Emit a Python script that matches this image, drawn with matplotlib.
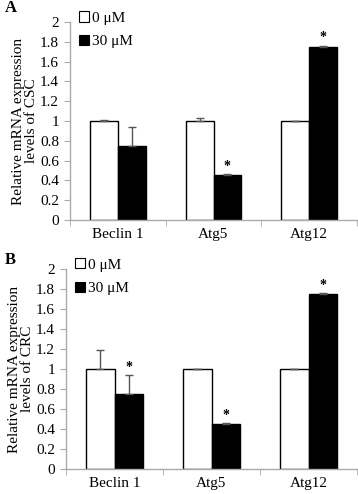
import matplotlib
matplotlib.use("Agg")
import matplotlib.pyplot as plt
import numpy as np
from matplotlib.patches import Patch

plt.rcParams['font.family'] = ['Liberation Serif', 'DejaVu Serif']

categories = ["Beclin 1", "Atg5", "Atg12"]
legend_labels = ["0 \u03bcM", "30 \u03bcM"]

csc_ctrl = [1.0, 1.0, 1.0]
csc_ctrl_err = [0.01, 0.03, 0.005]
csc_treat = [0.75, 0.45, 1.75]
csc_treat_err = [0.19, 0.01, 0.01]
csc_sig = [False, True, True]

crc_ctrl = [1.0, 1.0, 1.0]
crc_ctrl_err = [0.19, 0.005, 0.005]
crc_treat = [0.75, 0.45, 1.75]
crc_treat_err = [0.19, 0.01, 0.01]
crc_sig = [True, True, True]

yticks = [0, 0.2, 0.4, 0.6, 0.8, 1, 1.2, 1.4, 1.6, 1.8, 2]
ytick_labels = ["0", "0.2", "0.4", "0.6", "0.8", "1", "1.2", "1.4", "1.6", "1.8", "2"]

W, H = 358, 494
fig = plt.figure(figsize=(W/100, H/100), dpi=100)

def make_ax(left, top, right, bottom):
    return fig.add_axes([left/W, 1-bottom/H, (right-left)/W, (bottom-top)/H])

axA = make_ax(70, 22, 357, 220)
axB = make_ax(66, 269, 357, 469)

FS = 11

def draw(ax, ctrl, ctrl_err, treat, treat_err, sig, ylabel, panel, ylab_px, panel_y):
    x = np.arange(len(categories))
    w = 0.29
    ax.bar(x - w/2, ctrl, w, color='white', edgecolor='black', linewidth=1.0, zorder=2)
    ax.bar(x + w/2, treat, w, color='black', edgecolor='black', linewidth=1.0, zorder=2)
    ax.errorbar(x - w/2, ctrl, yerr=[np.zeros(len(ctrl)), ctrl_err], fmt='none',
                ecolor='#555555', elinewidth=1.0, capsize=3, capthick=1.0, zorder=3)
    ax.errorbar(x + w/2, treat, yerr=[np.zeros(len(treat)), treat_err], fmt='none',
                ecolor='#555555', elinewidth=1.0, capsize=3, capthick=1.0, zorder=3)
    for i, s in enumerate(sig):
        if s:
            ax.text(x[i] + w/2, treat[i] + treat_err[i] + 0.015, "*", ha='center', va='bottom',
                    fontsize=10, fontweight='bold')
    ax.set_xlim(-0.5, len(categories) - 0.5)
    ax.set_ylim(0, 2)
    ax.set_yticks(yticks)
    ax.set_yticklabels(ytick_labels)
    ax.set_xticks(x)
    ax.set_xticklabels(categories)
    ax.set_xticks(np.arange(len(categories) + 1) - 0.5, minor=True)
    ax.tick_params(axis='x', which='major', length=0, pad=6, labelsize=FS)
    ax.tick_params(axis='x', which='minor', length=4, color='#aaaaaa', direction='out')
    ax.tick_params(axis='y', length=4, color='#aaaaaa', labelsize=FS, pad=4)
    for sp in ['top', 'right']:
        ax.spines[sp].set_visible(False)
    for sp in ['left', 'bottom']:
        ax.spines[sp].set_color('#aaaaaa')
        ax.spines[sp].set_linewidth(1.0)
    ax.set_ylabel(ylabel, fontsize=FS, linespacing=1.0)
    bb = ax.get_position()
    ax.yaxis.set_label_coords((ylab_px / W - bb.x0) / bb.width, 0.5)
    handles = [Patch(facecolor='white', edgecolor='black', linewidth=0.8),
               Patch(facecolor='black', edgecolor='black', linewidth=0.8)]
    ax.legend(handles, legend_labels, loc='upper left', bbox_to_anchor=(0.0, 1.1),
              frameon=False, fontsize=FS, handlelength=0.65, handleheight=0.65,
              handletextpad=0.2, labelspacing=0.65, borderaxespad=0.2)
    fig.text(5/W, 1 - panel_y/H, panel, fontsize=12, fontweight='bold',
             ha='left', va='center')

draw(axA, csc_ctrl, csc_ctrl_err, csc_treat, csc_treat_err, csc_sig,
     "Relative mRNA expression\nlevels of CSC", "A", 38, 8)
draw(axB, crc_ctrl, crc_ctrl_err, crc_treat, crc_treat_err, crc_sig,
     "Relative mRNA expression\nlevels of CRC", "B", 34, 260)

fig.savefig("out.png", dpi=100)
